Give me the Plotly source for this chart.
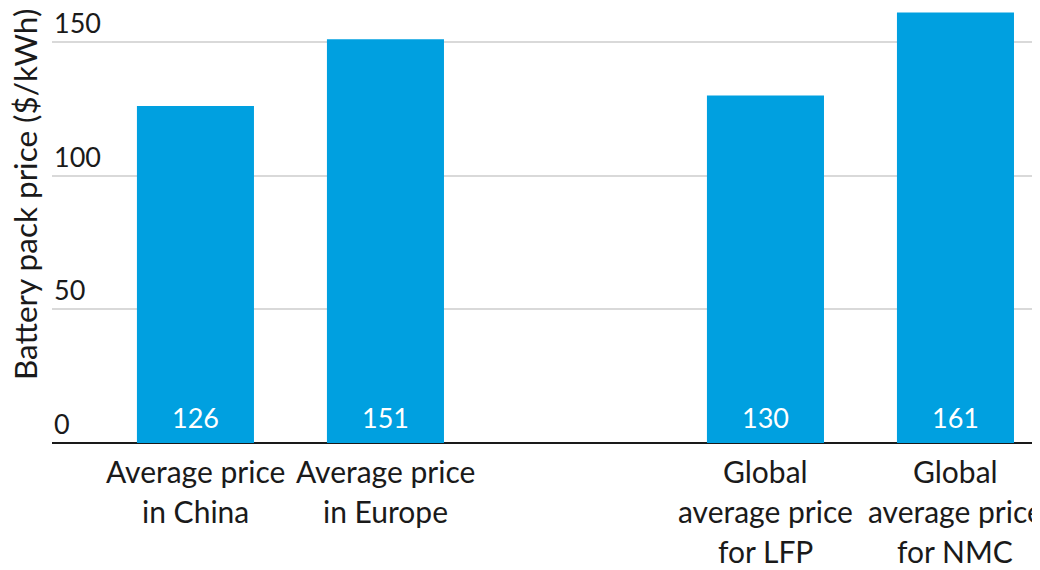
import plotly.graph_objects as go

categories = ["Average price<br>in China", "Average price<br>in Europe", "",
              "Global<br>average price<br>for LFP", "Global<br>average price<br>for NMC"]
positions = [0, 1, 2, 3, 4]
values = [126, 151, None, 130, 161]
value_labels = ["126", "151", "", "130", "161"]
y_ticks = [0, 50, 100, 150]
y_title = "Battery pack price ($/kWh)"

FONT = "Lato"
FS_NUM = 27
FS_CAT = 30
FS_TITLE = 31.5
BLUE = "#00A0E0"
DARK = "#1a1a1a"

bx = [p for p, v in zip(positions, values) if v is not None]
by = [v for v in values if v is not None]

fig = go.Figure()
fig.add_trace(go.Bar(x=bx, y=by, width=0.616, marker=dict(color=BLUE, line=dict(width=0)),
                     hoverinfo="skip"))

annotations = []
for p, v, lab in zip(positions, values, value_labels):
    if v is None:
        continue
    annotations.append(dict(x=p, y=0, xref="x", yref="y", text=lab, showarrow=False,
                            yanchor="middle", yshift=26,
                            font=dict(family=FONT, size=FS_NUM, color="white")))

for p, cat in zip(positions, categories):
    if not cat:
        continue
    for i, line in enumerate(cat.split("<br>")):
        annotations.append(dict(x=p, y=0, xref="x", yref="paper", text=line, showarrow=False,
                                yanchor="middle", yshift=-28 - 40 * i,
                                font=dict(family=FONT, size=FS_CAT, color=DARK)))

# y-axis tick labels, placed above their gridlines at the left of the plot
for t in y_ticks:
    annotations.append(dict(x=0, y=t, xref="paper", yref="y", text=str(t), showarrow=False,
                            xanchor="left", yanchor="middle", yshift=19.5,
                            font=dict(family=FONT, size=FS_NUM, color=DARK)))

annotations.append(dict(x=-0.0271, y=0.57, xref="paper", yref="paper", text=y_title,
                        textangle=-90, showarrow=False, xanchor="center", yanchor="middle",
                        font=dict(family=FONT, size=FS_TITLE, color=DARK)))

fig.update_layout(
    width=1040, height=570,
    margin=dict(l=44, r=0, t=0, b=135),
    paper_bgcolor="white", plot_bgcolor="white",
    showlegend=False,
    font=dict(family=FONT, size=FS_NUM, color=DARK),
    xaxis=dict(range=[-0.755, 4.487], showticklabels=False, showgrid=False, zeroline=False,
               showline=False, ticks=""),
    yaxis=dict(range=[0, 162.7], tickvals=y_ticks, showticklabels=False,
               showgrid=True, gridcolor="#d9d9d9", gridwidth=1.5,
               zeroline=True, zerolinecolor=DARK, zerolinewidth=2, ticks=""),
    annotations=annotations,
)

fig.write_html("out.html")
